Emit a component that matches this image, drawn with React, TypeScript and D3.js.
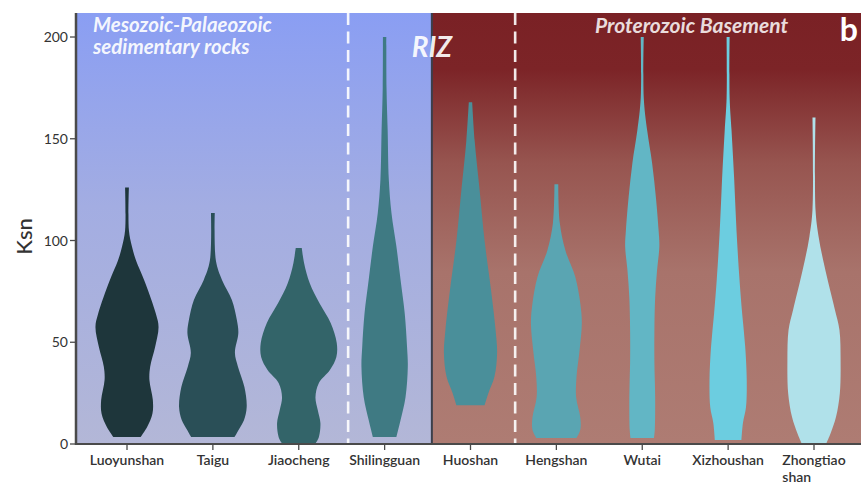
import { useEffect, useRef } from "react";
import * as d3 from "d3";

// sites, left to right
const categories = [
  "Luoyunshan",
  "Taigu",
  "Jiaocheng",
  "Shilingguan",
  "Huoshan",
  "Hengshan",
  "Wutai",
  "Xizhoushan",
  "Zhongtiaoshan",
];
const labelLines = [
  ["Luoyunshan"],
  ["Taigu"],
  ["Jiaocheng"],
  ["Shilingguan"],
  ["Huoshan"],
  ["Hengshan"],
  ["Wutai"],
  ["Xizhoushan"],
  ["Zhongtiao", "shan"],
];
const colors = [
  "#1e363b",
  "#2a4f57",
  "#336469",
  "#3f7a83",
  "#4a8f9a",
  "#5aa5b2",
  "#62b6c5",
  "#6ccde0",
  "#b0e1ea",
];

// violin profiles: [Ksn, relative density]
const luoyunshan: [number, number][] = [
  [3.5, 0.36], [8.4, 0.53], [15, 0.67], [21.6, 0.68], [31.4, 0.59], [38, 0.61],
  [47.7, 0.74], [57.5, 0.83], [64, 0.76], [80.6, 0.45], [90, 0.24], [97, 0.13],
  [105, 0.05], [126, 0.05],
];
const taigu: [number, number][] = [
  [3.4, 0.57], [7, 0.68], [11.8, 0.82], [18.2, 0.89], [28, 0.83], [38, 0.66],
  [44.7, 0.58], [54.5, 0.67], [61, 0.63], [70.8, 0.5], [80.6, 0.24], [90, 0.08],
  [113.5, 0.05],
];
const jiaocheng: [number, number][] = [
  [0.5, 0.45], [3.4, 0.53], [10.3, 0.57], [16.7, 0.5], [23, 0.44], [30, 0.53],
  [36.4, 0.82], [42.8, 0.99], [49.6, 1.0], [59.5, 0.84], [69, 0.55], [79, 0.29],
  [89, 0.14], [96.3, 0.08],
];
const shilingguan: [number, number][] = [
  [3.4, 0.31], [11.8, 0.42], [23, 0.55], [38, 0.61], [47.7, 0.59], [64, 0.53],
  [80.6, 0.42], [97, 0.31], [113.5, 0.18], [130, 0.11], [154, 0.08], [175, 0.05],
  [200, 0.045],
];
const huoshan: [number, number][] = [
  [19, 0.37], [25, 0.47], [33, 0.63], [44.7, 0.7], [56, 0.66], [75.7, 0.54],
  [100, 0.37], [124.8, 0.24], [149, 0.11], [168, 0.045],
];
const hengshan: [number, number][] = [
  [3, 0.53], [7, 0.63], [13, 0.63], [23, 0.52], [33, 0.53], [46, 0.61],
  [59.5, 0.67], [69, 0.63], [82, 0.5], [95, 0.24], [108.6, 0.09], [127.6, 0.05],
];
const wutai: [number, number][] = [
  [3, 0.31], [7, 0.33], [23, 0.34], [39.8, 0.32], [56, 0.32], [72, 0.34],
  [85.5, 0.39], [97, 0.45], [105, 0.43], [121, 0.36], [138, 0.26], [154, 0.13],
  [170, 0.04], [200, 0.04],
];
const xizhoushan: [number, number][] = [
  [2, 0.35], [10.3, 0.39], [18, 0.47], [31.4, 0.49], [47.7, 0.45], [64, 0.37],
  [80.6, 0.3], [105, 0.22], [130, 0.16], [154, 0.09], [170, 0.04], [200, 0.04],
];
const zhongtiaoshan: [number, number][] = [
  [0.5, 0.33], [5.4, 0.44], [13.4, 0.58], [25, 0.68], [41, 0.7], [56, 0.67],
  [66, 0.55], [79, 0.38], [90.4, 0.24], [102, 0.12], [115, 0.04], [160.5, 0.04],
];
const profiles = [
  luoyunshan, taigu, jiaocheng, shilingguan, huoshan,
  hengshan, wutai, xizhoushan, zhongtiaoshan,
];
const yTicks = [0, 50, 100, 150, 200];

const W = 861;
const H = 484;
const FONT = "Lato, 'Open Sans', sans-serif";

export default function App() {
  const svgRef = useRef<SVGSVGElement>(null);

  useEffect(() => {
    const svg = d3.select(svgRef.current);
    if (!svgRef.current) return;
    svg.selectAll("*").remove();

    const margin = { top: 13, left: 76, bottom: 40 };
    const bottom = H - margin.bottom;

    const y = d3.scaleLinear().domain([0, 211.8]).range([bottom, margin.top]);
    const x = d3.scalePoint<string>().domain(categories).range([127, 814]);
    const step = x.step();
    const w = d3.scaleLinear().domain([0, 1]).range([0, 38]);

    const dash1 = x("Jiaocheng")! + step * 0.575;
    const split = x("Shilingguan")! + step * 0.55;
    const dash2 = x("Huoshan")! + step * 0.52;

    // backgrounds
    const defs = svg.append("defs");
    const blue = defs.append("linearGradient").attr("id", "bg-blue")
      .attr("x1", 0).attr("x2", 0).attr("y1", 0).attr("y2", 1);
    blue.append("stop").attr("offset", "0%").attr("stop-color", "#8a9ef3");
    blue.append("stop").attr("offset", "45%").attr("stop-color", "#a3ade2");
    blue.append("stop").attr("offset", "100%").attr("stop-color", "#b3b7d7");

    const red = defs.append("linearGradient").attr("id", "bg-red")
      .attr("x1", 0).attr("x2", 0).attr("y1", 0).attr("y2", 1);
    red.append("stop").attr("offset", "0%").attr("stop-color", "#7a2125");
    red.append("stop").attr("offset", "13%").attr("stop-color", "#7c2427");
    red.append("stop").attr("offset", "35%").attr("stop-color", "#975550");
    red.append("stop").attr("offset", "60%").attr("stop-color", "#a8736b");
    red.append("stop").attr("offset", "100%").attr("stop-color", "#ae7c73");

    svg.append("rect")
      .attr("x", margin.left).attr("y", margin.top)
      .attr("width", split - margin.left).attr("height", bottom - margin.top)
      .attr("fill", "url(#bg-blue)");
    svg.append("rect")
      .attr("x", split).attr("y", margin.top)
      .attr("width", W - split).attr("height", bottom - margin.top)
      .attr("fill", "url(#bg-red)");

    // dashed RIZ borders
    [dash1, dash2].forEach((dx) => {
      svg.append("line")
        .attr("x1", dx).attr("x2", dx)
        .attr("y1", margin.top).attr("y2", bottom)
        .attr("stroke", "#ffffff")
        .attr("stroke-width", 2.6)
        .attr("stroke-dasharray", "12,6.5")
        .attr("opacity", 0.9);
    });

    // violins
    const area = d3.area<[number, number]>()
      .y((d) => y(d[0]))
      .curve(d3.curveCatmullRom.alpha(0.5));
    categories.forEach((c, i) => {
      const cx = x(c)!;
      area.x0((d) => cx - w(d[1])).x1((d) => cx + w(d[1]));
      svg.append("path")
        .datum(profiles[i])
        .attr("d", area)
        .attr("fill", colors[i]);
    });

    // solid split line
    svg.append("line")
      .attr("x1", split).attr("x2", split)
      .attr("y1", margin.top).attr("y2", bottom)
      .attr("stroke", "#3b3f4b")
      .attr("stroke-width", 2);

    // axes
    const axisColor = "#4a4a4a";
    svg.append("line")
      .attr("x1", margin.left).attr("x2", margin.left)
      .attr("y1", margin.top).attr("y2", bottom + 1)
      .attr("stroke", axisColor).attr("stroke-width", 2.5);
    svg.append("line")
      .attr("x1", margin.left).attr("x2", W)
      .attr("y1", bottom).attr("y2", bottom)
      .attr("stroke", axisColor).attr("stroke-width", 2);

    yTicks.forEach((t) => {
      svg.append("line")
        .attr("x1", margin.left - 6).attr("x2", margin.left)
        .attr("y1", y(t)).attr("y2", y(t))
        .attr("stroke", axisColor).attr("stroke-width", 1.3);
      svg.append("text")
        .attr("x", margin.left - 8).attr("y", y(t) + 5)
        .attr("text-anchor", "end")
        .attr("font-family", FONT).attr("font-size", 14)
        .attr("fill", "#333")
        .text(t);
    });

    categories.forEach((c, i) => {
      const cx = x(c)!;
      svg.append("line")
        .attr("x1", cx).attr("x2", cx)
        .attr("y1", bottom).attr("y2", bottom + 6)
        .attr("stroke", axisColor).attr("stroke-width", 1.3);
      const lines = labelLines[i];
      const t = svg.append("text")
        .attr("font-family", FONT).attr("font-size", 14)
        .attr("font-weight", 600)
        .attr("fill", "#333");
      const first = t.append("tspan")
        .attr("x", cx).attr("y", bottom + 21)
        .attr("text-anchor", "middle")
        .text(lines[0]);
      if (lines.length > 1) {
        const len = (first.node() as SVGTextContentElement).getComputedTextLength();
        lines.slice(1).forEach((ln, k) => {
          t.append("tspan")
            .attr("x", cx - len / 2).attr("y", bottom + 21 + 17 * (k + 1))
            .attr("text-anchor", "start")
            .text(ln);
        });
      }
    });

    // y label
    svg.append("text")
      .attr("transform", `translate(32,${y(100) - 4}) rotate(-90)`)
      .attr("text-anchor", "middle")
      .attr("font-family", FONT).attr("font-size", 22)
      .attr("font-weight", 500)
      .attr("fill", "#333")
      .text("Ksn");

    // region titles
    const title = svg.append("text")
      .attr("font-family", FONT).attr("font-size", 20.5)
      .attr("font-weight", 700).attr("font-style", "italic")
      .attr("fill", "#ffffff").attr("fill-opacity", 0.92);
    title.append("tspan").attr("x", 93).attr("y", 32).text("Mesozoic-Palaeozoic");
    title.append("tspan").attr("x", 93).attr("y", 54).text("sedimentary rocks");

    svg.append("text")
      .attr("x", split).attr("y", 57)
      .attr("text-anchor", "middle")
      .attr("font-family", FONT).attr("font-size", 28)
      .attr("font-weight", 700).attr("font-style", "italic")
      .attr("fill", "#ffffff").attr("fill-opacity", 0.92)
      .text("RIZ");

    svg.append("text")
      .attr("x", 595).attr("y", 33)
      .attr("font-family", FONT).attr("font-size", 21)
      .attr("font-weight", 700).attr("font-style", "italic")
      .attr("fill", "#ffffff").attr("fill-opacity", 0.85)
      .text("Proterozoic Basement");

    svg.append("text")
      .attr("x", 858).attr("y", 41)
      .attr("text-anchor", "end")
      .attr("font-family", FONT).attr("font-size", 32)
      .attr("font-weight", 700)
      .attr("fill", "#ffffff")
      .text("b");
  }, []);

  return (
    <svg
      ref={svgRef}
      width={W}
      height={H}
      style={{ position: "absolute", left: 0, top: 0, background: "#fff" }}
    />
  );
}
